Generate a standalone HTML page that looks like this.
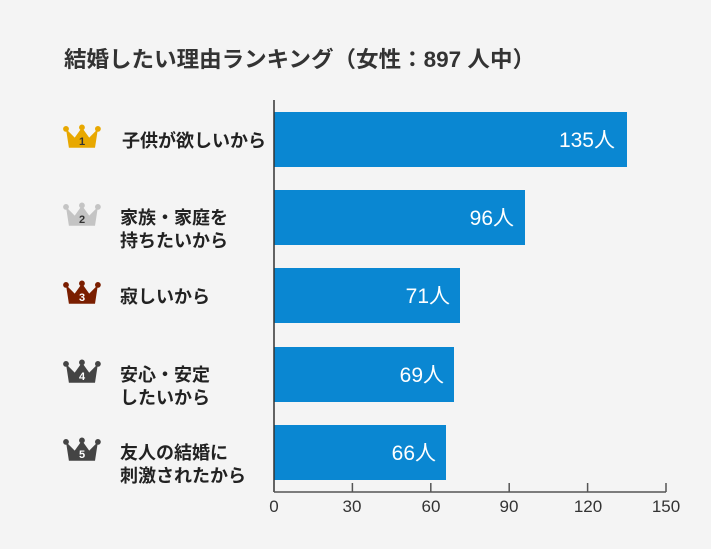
<!DOCTYPE html><html><head><meta charset="utf-8"><style>
body{margin:0;background:#f4f4f4;}
svg{display:block}
text{font-family:"Liberation Sans","Noto Sans CJK JP",sans-serif;}
</style></head><body>
<svg width="711" height="549" viewBox="0 0 711 549">
<rect width="711" height="549" fill="#f4f4f4"/>
<text x="64" y="67" font-size="22" font-weight="bold" fill="#333" textLength="471" lengthAdjust="spacingAndGlyphs">結婚したい理由ランキング（女性：897 人中）</text>
<defs>
<g id="cr"><path d="M0,2 L6,8 L11,1 L16,8 L22,2 L20,15 L2,15 Z"/><circle cx="0" cy="2" r="2"/><circle cx="11" cy="1" r="2"/><circle cx="22" cy="2" r="2"/></g>
</defs>
<g fill="#0a87d2">
<rect x="274" y="112" width="353" height="55"/>
<rect x="274" y="190" width="251" height="55"/>
<rect x="274" y="268" width="186" height="55"/>
<rect x="274" y="347" width="180" height="55"/>
<rect x="274" y="425" width="172" height="55"/>
</g>
<g fill="#fff" font-size="21" text-anchor="end">
<text x="615" y="147">135人</text>
<text x="514" y="225">96人</text>
<text x="450" y="303">71人</text>
<text x="444" y="382">69人</text>
<text x="436" y="460">66人</text>
</g>
<line x1="274" y1="100" x2="274" y2="492" stroke="#333" stroke-width="1.5"/>
<line x1="274" y1="492" x2="666" y2="492" stroke="#555" stroke-width="1.5"/>
<g stroke="#555" stroke-width="1.5">
<line x1="352.4" y1="483" x2="352.4" y2="492"/><line x1="430.8" y1="483" x2="430.8" y2="492"/><line x1="509.2" y1="483" x2="509.2" y2="492"/><line x1="587.6" y1="483" x2="587.6" y2="492"/><line x1="666" y1="483" x2="666" y2="492"/>
</g>
<g font-size="17" fill="#333" text-anchor="middle">
<text x="274" y="512">0</text><text x="352" y="512">30</text><text x="431" y="512">60</text><text x="509" y="512">90</text><text x="588" y="512">120</text><text x="666" y="512">150</text>
</g>
<g transform="translate(66,126) scale(1.45)" fill="#e8a800"><use href="#cr"/></g>
<g transform="translate(66,204) scale(1.45)" fill="#c4c4c4"><use href="#cr"/></g>
<g transform="translate(66,282) scale(1.45)" fill="#7a1e00"><use href="#cr"/></g>
<g transform="translate(66,361) scale(1.45)" fill="#444"><use href="#cr"/></g>
<g transform="translate(66,439) scale(1.45)" fill="#444"><use href="#cr"/></g>
<g font-size="11" font-weight="bold" text-anchor="middle">
<text x="82" y="145" fill="#333">1</text>
<text x="82" y="223" fill="#333">2</text>
<text x="82" y="301" fill="#fff">3</text>
<text x="82" y="380" fill="#fff">4</text>
<text x="82" y="458" fill="#fff">5</text>
</g>
<g font-size="18" font-weight="bold" fill="#222">
<text x="122" y="147">子供が欲しいから</text>
<text x="120" y="224">家族・家庭を</text><text x="120" y="247">持ちたいから</text>
<text x="120" y="303">寂しいから</text>
<text x="120" y="381">安心・安定</text><text x="120" y="404">したいから</text>
<text x="120" y="459">友人の結婚に</text><text x="120" y="482">刺激されたから</text>
</g>
</svg>
</body></html>
